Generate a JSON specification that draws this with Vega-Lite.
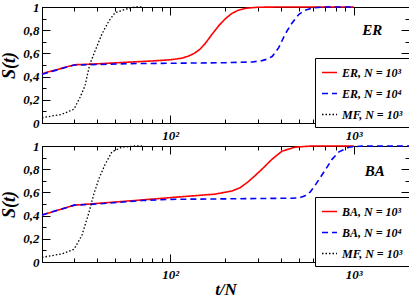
{
  "$schema": "https://vega.github.io/schema/vega-lite/v6.json",
  "padding": {"left": 0, "top": 0, "right": 2, "bottom": 0},
  "background": "white",
  "datasets": {
    "curves": [
      {"panel": "ER", "series": "ER, N = 10³", "t": 20, "s": 0.425},
      {"panel": "ER", "series": "ER, N = 10³", "t": 30, "s": 0.502},
      {"panel": "ER", "series": "ER, N = 10³", "t": 40, "s": 0.51},
      {"panel": "ER", "series": "ER, N = 10³", "t": 60, "s": 0.525},
      {"panel": "ER", "series": "ER, N = 10³", "t": 80, "s": 0.535},
      {"panel": "ER", "series": "ER, N = 10³", "t": 100, "s": 0.545},
      {"panel": "ER", "series": "ER, N = 10³", "t": 115, "s": 0.558},
      {"panel": "ER", "series": "ER, N = 10³", "t": 125, "s": 0.575},
      {"panel": "ER", "series": "ER, N = 10³", "t": 135, "s": 0.6},
      {"panel": "ER", "series": "ER, N = 10³", "t": 145, "s": 0.635},
      {"panel": "ER", "series": "ER, N = 10³", "t": 155, "s": 0.685},
      {"panel": "ER", "series": "ER, N = 10³", "t": 169, "s": 0.765},
      {"panel": "ER", "series": "ER, N = 10³", "t": 184, "s": 0.84},
      {"panel": "ER", "series": "ER, N = 10³", "t": 200, "s": 0.9},
      {"panel": "ER", "series": "ER, N = 10³", "t": 217, "s": 0.945},
      {"panel": "ER", "series": "ER, N = 10³", "t": 235, "s": 0.973},
      {"panel": "ER", "series": "ER, N = 10³", "t": 260, "s": 0.99},
      {"panel": "ER", "series": "ER, N = 10³", "t": 300, "s": 0.998},
      {"panel": "ER", "series": "ER, N = 10³", "t": 400, "s": 1.0},
      {"panel": "ER", "series": "ER, N = 10³", "t": 1000, "s": 1.0},
      {"panel": "ER", "series": "ER, N = 10⁴", "t": 20, "s": 0.42},
      {"panel": "ER", "series": "ER, N = 10⁴", "t": 30, "s": 0.5},
      {"panel": "ER", "series": "ER, N = 10⁴", "t": 40, "s": 0.505},
      {"panel": "ER", "series": "ER, N = 10⁴", "t": 60, "s": 0.512},
      {"panel": "ER", "series": "ER, N = 10⁴", "t": 100, "s": 0.515},
      {"panel": "ER", "series": "ER, N = 10⁴", "t": 200, "s": 0.52},
      {"panel": "ER", "series": "ER, N = 10⁴", "t": 280, "s": 0.526},
      {"panel": "ER", "series": "ER, N = 10⁴", "t": 316, "s": 0.538},
      {"panel": "ER", "series": "ER, N = 10⁴", "t": 340, "s": 0.552},
      {"panel": "ER", "series": "ER, N = 10⁴", "t": 360, "s": 0.575},
      {"panel": "ER", "series": "ER, N = 10⁴", "t": 390, "s": 0.65},
      {"panel": "ER", "series": "ER, N = 10⁴", "t": 424, "s": 0.77},
      {"panel": "ER", "series": "ER, N = 10⁴", "t": 460, "s": 0.86},
      {"panel": "ER", "series": "ER, N = 10⁴", "t": 501, "s": 0.935},
      {"panel": "ER", "series": "ER, N = 10⁴", "t": 540, "s": 0.97},
      {"panel": "ER", "series": "ER, N = 10⁴", "t": 600, "s": 0.993},
      {"panel": "ER", "series": "ER, N = 10⁴", "t": 700, "s": 1.0},
      {"panel": "ER", "series": "ER, N = 10⁴", "t": 1000, "s": 1.0},
      {"panel": "ER", "series": "MF, N = 10³", "t": 20, "s": 0.045},
      {"panel": "ER", "series": "MF, N = 10³", "t": 25.7, "s": 0.075},
      {"panel": "ER", "series": "MF, N = 10³", "t": 29.9, "s": 0.12},
      {"panel": "ER", "series": "MF, N = 10³", "t": 32.2, "s": 0.22},
      {"panel": "ER", "series": "MF, N = 10³", "t": 34.3, "s": 0.32},
      {"panel": "ER", "series": "MF, N = 10³", "t": 35.4, "s": 0.42},
      {"panel": "ER", "series": "MF, N = 10³", "t": 36.5, "s": 0.51},
      {"panel": "ER", "series": "MF, N = 10³", "t": 38.9, "s": 0.62},
      {"panel": "ER", "series": "MF, N = 10³", "t": 42.5, "s": 0.77},
      {"panel": "ER", "series": "MF, N = 10³", "t": 46.3, "s": 0.88},
      {"panel": "ER", "series": "MF, N = 10³", "t": 50, "s": 0.95},
      {"panel": "ER", "series": "MF, N = 10³", "t": 56.7, "s": 0.98},
      {"panel": "ER", "series": "MF, N = 10³", "t": 64.3, "s": 1.0},
      {"panel": "ER", "series": "MF, N = 10³", "t": 70, "s": 1.0},
      {"panel": "BA", "series": "BA, N = 10³", "t": 20, "s": 0.405},
      {"panel": "BA", "series": "BA, N = 10³", "t": 30, "s": 0.49},
      {"panel": "BA", "series": "BA, N = 10³", "t": 40, "s": 0.505},
      {"panel": "BA", "series": "BA, N = 10³", "t": 70, "s": 0.535},
      {"panel": "BA", "series": "BA, N = 10³", "t": 100, "s": 0.555},
      {"panel": "BA", "series": "BA, N = 10³", "t": 175, "s": 0.585},
      {"panel": "BA", "series": "BA, N = 10³", "t": 217, "s": 0.612},
      {"panel": "BA", "series": "BA, N = 10³", "t": 240, "s": 0.64},
      {"panel": "BA", "series": "BA, N = 10³", "t": 265, "s": 0.69},
      {"panel": "BA", "series": "BA, N = 10³", "t": 290, "s": 0.745},
      {"panel": "BA", "series": "BA, N = 10³", "t": 316, "s": 0.8},
      {"panel": "BA", "series": "BA, N = 10³", "t": 358, "s": 0.885},
      {"panel": "BA", "series": "BA, N = 10³", "t": 406, "s": 0.955},
      {"panel": "BA", "series": "BA, N = 10³", "t": 478, "s": 0.99},
      {"panel": "BA", "series": "BA, N = 10³", "t": 592, "s": 1.0},
      {"panel": "BA", "series": "BA, N = 10³", "t": 1000, "s": 1.0},
      {"panel": "BA", "series": "BA, N = 10⁴", "t": 20, "s": 0.405},
      {"panel": "BA", "series": "BA, N = 10⁴", "t": 30, "s": 0.49},
      {"panel": "BA", "series": "BA, N = 10⁴", "t": 40, "s": 0.5},
      {"panel": "BA", "series": "BA, N = 10⁴", "t": 70, "s": 0.53},
      {"panel": "BA", "series": "BA, N = 10⁴", "t": 100, "s": 0.54},
      {"panel": "BA", "series": "BA, N = 10⁴", "t": 217, "s": 0.545},
      {"panel": "BA", "series": "BA, N = 10⁴", "t": 460, "s": 0.55},
      {"panel": "BA", "series": "BA, N = 10⁴", "t": 503, "s": 0.553},
      {"panel": "BA", "series": "BA, N = 10⁴", "t": 542, "s": 0.57},
      {"panel": "BA", "series": "BA, N = 10⁴", "t": 580, "s": 0.605},
      {"panel": "BA", "series": "BA, N = 10⁴", "t": 615, "s": 0.66},
      {"panel": "BA", "series": "BA, N = 10⁴", "t": 655, "s": 0.725},
      {"panel": "BA", "series": "BA, N = 10⁴", "t": 697, "s": 0.79},
      {"panel": "BA", "series": "BA, N = 10⁴", "t": 761, "s": 0.885},
      {"panel": "BA", "series": "BA, N = 10⁴", "t": 831, "s": 0.95},
      {"panel": "BA", "series": "BA, N = 10⁴", "t": 942, "s": 0.99},
      {"panel": "BA", "series": "BA, N = 10⁴", "t": 1109, "s": 1.0},
      {"panel": "BA", "series": "BA, N = 10⁴", "t": 2000, "s": 1.0},
      {"panel": "BA", "series": "MF, N = 10³", "t": 20, "s": 0.04},
      {"panel": "BA", "series": "MF, N = 10³", "t": 25.7, "s": 0.07},
      {"panel": "BA", "series": "MF, N = 10³", "t": 29.9, "s": 0.11},
      {"panel": "BA", "series": "MF, N = 10³", "t": 33.0, "s": 0.23},
      {"panel": "BA", "series": "MF, N = 10³", "t": 36.1, "s": 0.43},
      {"panel": "BA", "series": "MF, N = 10³", "t": 38.4, "s": 0.59},
      {"panel": "BA", "series": "MF, N = 10³", "t": 40.9, "s": 0.72},
      {"panel": "BA", "series": "MF, N = 10³", "t": 44.1, "s": 0.84},
      {"panel": "BA", "series": "MF, N = 10³", "t": 48.1, "s": 0.95},
      {"panel": "BA", "series": "MF, N = 10³", "t": 54.6, "s": 0.99},
      {"panel": "BA", "series": "MF, N = 10³", "t": 64.3, "s": 1.0},
      {"panel": "BA", "series": "MF, N = 10³", "t": 70, "s": 1.0}
    ],
    "tags": [
      {"panel": "ER", "t": 1260, "s": 0.8, "label": "ER"},
      {"panel": "BA", "t": 1300, "s": 0.785, "label": "BA"}
    ]
  },
  "config": {
    "view": {"stroke": "black", "strokeWidth": 1},
    "axis": {
      "grid": false,
      "domainColor": "black",
      "tickColor": "black",
      "labelColor": "black",
      "labelFont": "Liberation Serif",
      "labelFontWeight": "bold",
      "labelFontStyle": "italic",
      "labelFontSize": 13,
      "labelFlush": false,
      "labelOverlap": false,
      "labelBound": false,
      "titleFont": "Liberation Serif",
      "titleFontWeight": "bold",
      "titleFontStyle": "italic",
      "titleFontSize": 18,
      "titleColor": "black"
    },
    "legend": {
      "orient": "none",
      "legendX": 273,
      "legendY": 51,
      "title": null,
      "strokeColor": "black",
      "fillColor": "white",
      "padding": 6,
      "symbolType": "stroke",
      "symbolSize": 225,
      "symbolStrokeWidth": 1.6,
      "labelFont": "Liberation Serif",
      "labelFontWeight": "bold",
      "labelFontStyle": "italic",
      "labelFontSize": 12,
      "labelColor": "black",
      "rowPadding": 6
    }
  },
  "spacing": 23,
  "bounds": "flush",
  "resolve": {"scale": {"color": "independent", "strokeDash": "independent"}},
  "vconcat": [
    {
      "width": 367,
      "height": 116,
      "resolve": {"axis": {"x": "independent", "y": "independent"}},
      "layer": [
        {
          "data": {"name": "curves"},
          "transform": [{"filter": "datum.panel == 'ER' && datum.series == 'ER, N = 10³'"}],
          "mark": {"type": "line", "strokeWidth": 1.6},
          "encoding": {
            "x": {"field": "t", "type": "quantitative", "scale": {"type": "log", "domain": [20, 2000], "nice": false},
                  "axis": {"orient": "bottom", "values": [100, 1000], "ticks": false, "domain": false, "labelPadding": 6, "labelBaseline": "top", "labelExpr": "datum.value == 100 ? '10²' : '10³'", "title": null}},
            "y": {"field": "s", "type": "quantitative", "scale": {"domain": [0, 1], "nice": false},
                  "axis": {"orient": "left", "values": [0, 0.2, 0.4, 0.6, 0.8, 1], "tickSize": -8, "labelPadding": 11, "labelExpr": "replace(format(datum.value, '.1~f'), '.', ',')", "title": "S(t)", "titlePadding": 4}},
            "color": {"field": "series", "type": "nominal", "scale": {"domain": ["ER, N = 10³", "ER, N = 10⁴", "MF, N = 10³"], "range": ["#ff0000", "#0000ff", "#000000"]}},
            "strokeDash": {"field": "series", "type": "nominal", "scale": {"domain": ["ER, N = 10³", "ER, N = 10⁴", "MF, N = 10³"], "range": [[1, 0], [6, 4], [1.5, 2]]}}
          }
        },
        {
          "data": {"name": "curves"},
          "transform": [{"filter": "datum.panel == 'ER' && datum.series == 'ER, N = 10⁴'"}],
          "mark": {"type": "line", "strokeWidth": 1.6},
          "encoding": {
            "x": {"field": "t", "type": "quantitative",
                  "axis": {"orient": "top", "values": [100, 1000], "tickSize": -8, "labels": false, "title": null}},
            "y": {"field": "s", "type": "quantitative",
                  "axis": {"orient": "right", "values": [0, 0.2, 0.4, 0.6, 0.8, 1], "tickSize": -8, "labels": false, "title": null}},
            "color": {"field": "series", "type": "nominal"},
            "strokeDash": {"field": "series", "type": "nominal"}
          }
        },
        {
          "data": {"name": "curves"},
          "transform": [{"filter": "datum.panel == 'ER' && datum.series == 'MF, N = 10³'"}],
          "mark": {"type": "line", "strokeWidth": 1.3},
          "encoding": {
            "x": {"field": "t", "type": "quantitative",
                  "axis": {"orient": "bottom", "values": [20, 30, 40, 50, 60, 70, 80, 90, 200, 300, 400, 500, 600, 700, 800, 900, 2000], "tickSize": -4, "labels": false, "domain": false, "title": null}},
            "y": {"field": "s", "type": "quantitative",
                  "axis": {"orient": "left", "values": [0.1, 0.3, 0.5, 0.7, 0.9], "tickSize": -4, "labels": false, "domain": false, "title": null}},
            "color": {"field": "series", "type": "nominal"},
            "strokeDash": {"field": "series", "type": "nominal"}
          }
        },
        {
          "data": {"name": "tags"},
          "transform": [{"filter": "datum.panel == 'ER'"}],
          "mark": {"type": "text", "font": "Liberation Serif", "fontWeight": "bold", "fontStyle": "italic", "fontSize": 15, "color": "black"},
          "encoding": {
            "x": {"field": "t", "type": "quantitative",
                  "axis": {"orient": "top", "values": [20, 30, 40, 50, 60, 70, 80, 90, 200, 300, 400, 500, 600, 700, 800, 900, 2000], "tickSize": -4, "labels": false, "domain": false, "title": null}},
            "y": {"field": "s", "type": "quantitative",
                  "axis": {"orient": "right", "values": [0.1, 0.3, 0.5, 0.7, 0.9], "tickSize": -4, "labels": false, "domain": false, "title": null}},
            "text": {"field": "label"}
          }
        },
        {
          "data": {"name": "tags"},
          "transform": [{"filter": "datum.panel == 'ER'"}],
          "mark": {"type": "text", "opacity": 0},
          "encoding": {
            "x": {"field": "t", "type": "quantitative",
                  "axis": {"orient": "bottom", "values": [100, 1000], "tickSize": -8, "labels": false, "title": null}},
            "y": {"field": "s", "type": "quantitative", "axis": null},
            "text": {"field": "label"}
          }
        }
      ]
    },
    {
      "width": 367,
      "height": 116,
      "resolve": {"axis": {"x": "independent", "y": "independent"}},
      "layer": [
        {
          "data": {"name": "curves"},
          "transform": [{"filter": "datum.panel == 'BA' && datum.series == 'BA, N = 10³'"}],
          "mark": {"type": "line", "strokeWidth": 1.6},
          "encoding": {
            "x": {"field": "t", "type": "quantitative", "scale": {"type": "log", "domain": [20, 2000], "nice": false},
                  "axis": {"orient": "bottom", "values": [100, 1000], "ticks": false, "domain": false, "labelPadding": 6, "labelBaseline": "top", "labelExpr": "datum.value == 100 ? '10²' : '10³'", "title": "t/N", "titlePadding": 0, "titleFontSize": 17}},
            "y": {"field": "s", "type": "quantitative", "scale": {"domain": [0, 1], "nice": false},
                  "axis": {"orient": "left", "values": [0, 0.2, 0.4, 0.6, 0.8, 1], "tickSize": -8, "labelPadding": 11, "labelExpr": "replace(format(datum.value, '.1~f'), '.', ',')", "title": "S(t)", "titlePadding": 4}},
            "color": {"field": "series", "type": "nominal", "scale": {"domain": ["BA, N = 10³", "BA, N = 10⁴", "MF, N = 10³"], "range": ["#ff0000", "#0000ff", "#000000"]}},
            "strokeDash": {"field": "series", "type": "nominal", "scale": {"domain": ["BA, N = 10³", "BA, N = 10⁴", "MF, N = 10³"], "range": [[1, 0], [6, 4], [1.5, 2]]}}
          }
        },
        {
          "data": {"name": "curves"},
          "transform": [{"filter": "datum.panel == 'BA' && datum.series == 'BA, N = 10⁴'"}],
          "mark": {"type": "line", "strokeWidth": 1.6},
          "encoding": {
            "x": {"field": "t", "type": "quantitative",
                  "axis": {"orient": "top", "values": [100, 1000], "tickSize": -8, "labels": false, "title": null}},
            "y": {"field": "s", "type": "quantitative",
                  "axis": {"orient": "right", "values": [0, 0.2, 0.4, 0.6, 0.8, 1], "tickSize": -8, "labels": false, "title": null}},
            "color": {"field": "series", "type": "nominal"},
            "strokeDash": {"field": "series", "type": "nominal"}
          }
        },
        {
          "data": {"name": "curves"},
          "transform": [{"filter": "datum.panel == 'BA' && datum.series == 'MF, N = 10³'"}],
          "mark": {"type": "line", "strokeWidth": 1.3},
          "encoding": {
            "x": {"field": "t", "type": "quantitative",
                  "axis": {"orient": "bottom", "values": [20, 30, 40, 50, 60, 70, 80, 90, 200, 300, 400, 500, 600, 700, 800, 900, 2000], "tickSize": -4, "labels": false, "domain": false, "title": null}},
            "y": {"field": "s", "type": "quantitative",
                  "axis": {"orient": "left", "values": [0.1, 0.3, 0.5, 0.7, 0.9], "tickSize": -4, "labels": false, "domain": false, "title": null}},
            "color": {"field": "series", "type": "nominal"},
            "strokeDash": {"field": "series", "type": "nominal"}
          }
        },
        {
          "data": {"name": "tags"},
          "transform": [{"filter": "datum.panel == 'BA'"}],
          "mark": {"type": "text", "font": "Liberation Serif", "fontWeight": "bold", "fontStyle": "italic", "fontSize": 15, "color": "black"},
          "encoding": {
            "x": {"field": "t", "type": "quantitative",
                  "axis": {"orient": "top", "values": [20, 30, 40, 50, 60, 70, 80, 90, 200, 300, 400, 500, 600, 700, 800, 900, 2000], "tickSize": -4, "labels": false, "domain": false, "title": null}},
            "y": {"field": "s", "type": "quantitative",
                  "axis": {"orient": "right", "values": [0.1, 0.3, 0.5, 0.7, 0.9], "tickSize": -4, "labels": false, "domain": false, "title": null}},
            "text": {"field": "label"}
          }
        },
        {
          "data": {"name": "tags"},
          "transform": [{"filter": "datum.panel == 'BA'"}],
          "mark": {"type": "text", "opacity": 0},
          "encoding": {
            "x": {"field": "t", "type": "quantitative",
                  "axis": {"orient": "bottom", "values": [100, 1000], "tickSize": -8, "labels": false, "title": null}},
            "y": {"field": "s", "type": "quantitative", "axis": null},
            "text": {"field": "label"}
          }
        }
      ]
    }
  ]
}
